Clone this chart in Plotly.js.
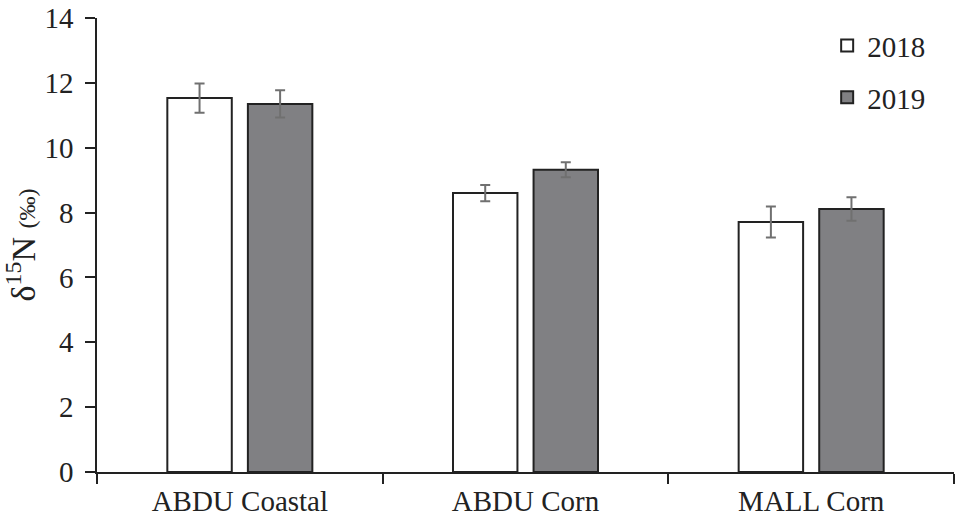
<!DOCTYPE html>
<html>
<head>
<meta charset="utf-8">
<script src="https://cdn.plot.ly/plotly-3.0.1.min.js"></script>
<style>body{margin:0;padding:0;background:#fff;}</style>
</head>
<body>
<div id="chart" style="width:957px;height:522px;"></div>
<script>
var categories = ["ABDU Coastal", "ABDU Corn", "MALL Corn"];
var values2018 = [11.53, 8.60, 7.71];
var err2018 = [0.45, 0.25, 0.48];
var values2019 = [11.35, 9.32, 8.11];
var err2019 = [0.42, 0.23, 0.36];
var seriesNames = ["2018", "2019"];

var fontFam = "Liberation Serif, DejaVu Serif, serif";

var traces = [
  {
    type: "bar", name: seriesNames[0], x: categories, y: values2018, legendgroup: "a",
    marker: {color: "#ffffff", line: {color: "#222222", width: 2}},
    error_y: {type: "data", array: err2018, visible: true, color: "#707070", thickness: 2, width: 5}
  },
  {
    type: "bar", name: seriesNames[1], x: categories, y: values2019, legendgroup: "b",
    marker: {color: "#808083", line: {color: "#222222", width: 2}},
    error_y: {type: "data", array: err2019, visible: true, color: "#707070", thickness: 2, width: 5}
  }
];

var layout = {
  width: 957, height: 522,
  margin: {l: 97, r: 3, t: 18, b: 50},
  paper_bgcolor: "#ffffff", plot_bgcolor: "#ffffff",
  font: {family: fontFam, color: "#222222", size: 29},
  barmode: "group",
  bargap: 0.436,
  bargroupgap: 0.2,
  showlegend: true,
  legend: {x: 0.852, y: 0.995, xanchor: "left", yanchor: "top", font: {size: 29, family: fontFam},
           bgcolor: "rgba(0,0,0,0)", tracegroupgap: 11, traceorder: "grouped", itemwidth: 30},
  xaxis: {
    type: "category", showline: true, linecolor: "#222222", linewidth: 1.5,
    ticks: "outside", tickson: "boundaries", ticklen: 10, tickcolor: "#222222", tickwidth: 1.5,
    showgrid: false, zeroline: false, tickfont: {size: 29, family: fontFam}, ticklabelstandoff: 2
  },
  yaxis: {
    range: [0, 14], dtick: 2, showline: true, linecolor: "#222222", linewidth: 1.5,
    ticks: "outside", ticklen: 10, tickcolor: "#222222", tickwidth: 1.5,
    showgrid: false, zeroline: false, tickfont: {size: 29, family: fontFam}, ticklabelstandoff: 6,
    title: {text: "δ<sup>15</sup>N <span style='font-size:24px'>(‰)</span>", font: {size: 34, family: fontFam}, standoff: 2}
  }
};

Plotly.newPlot("chart", traces, layout, {displayModeBar: false});
</script>
</body>
</html>
